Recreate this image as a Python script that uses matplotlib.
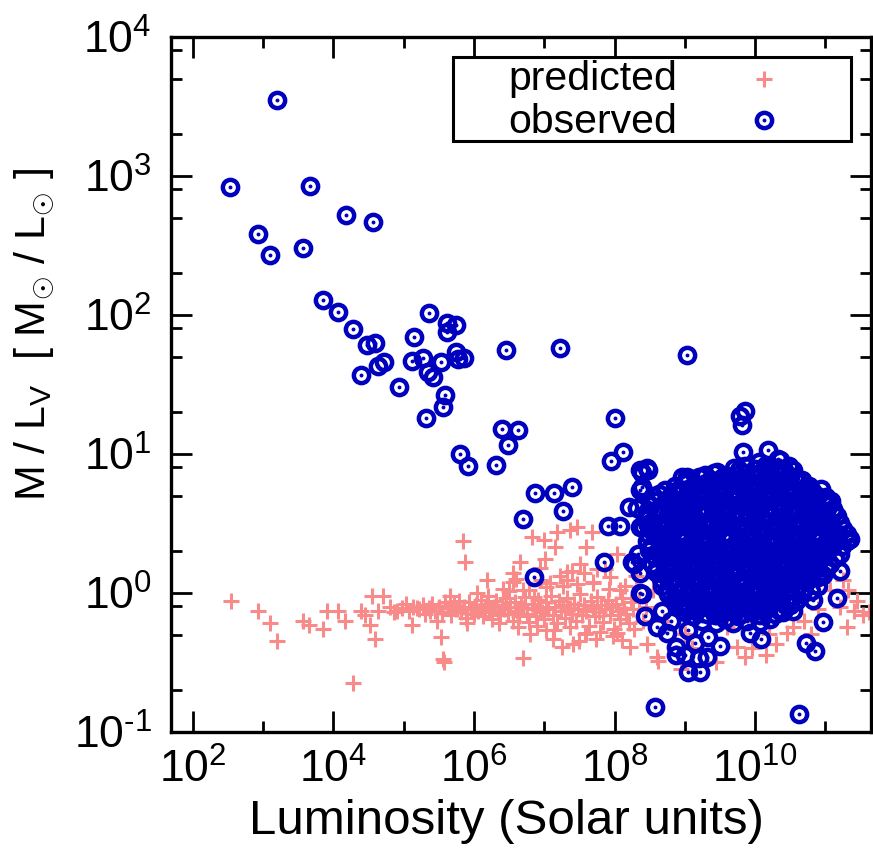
import matplotlib
matplotlib.use("Agg")
import matplotlib.pyplot as plt
from matplotlib.patches import Rectangle
from matplotlib.ticker import FixedLocator, FixedFormatter, NullFormatter
import numpy as np

plt.rcParams['font.family'] = ['Liberation Sans', 'DejaVu Sans']
plt.rcParams['mathtext.fontset'] = 'custom'
plt.rcParams['mathtext.rm'] = 'Liberation Sans'
plt.rcParams['mathtext.it'] = 'Liberation Sans'

# ---- data: (log10 luminosity [L_sun], log10 M/L_V [M_sun/L_sun]) ----
# observed: low-luminosity systems and isolated objects
observed_sparse = [
    (2.53, 2.92), (3.20, 3.55), (3.67, 2.93), (4.18, 2.72), (4.56, 2.67), (2.93, 2.58),
    (3.10, 2.43), (3.57, 2.48), (3.86, 2.11), (4.07, 2.02), (4.28, 1.90), (4.48, 1.78),
    (4.59, 1.80), (4.72, 1.66), (4.64, 1.63), (4.39, 1.57), (4.93, 1.48), (5.15, 1.84),
    (5.36, 2.01), (5.61, 1.94), (5.75, 1.93), (5.62, 1.88), (5.12, 1.67), (5.27, 1.69),
    (5.53, 1.66), (5.35, 1.59), (5.42, 1.55), (5.75, 1.73), (5.86, 1.69), (5.77, 1.68),
    (5.59, 1.42), (5.56, 1.34), (5.32, 1.26), (6.46, 1.75), (7.23, 1.76), (6.40, 1.18),
    (6.63, 1.17), (6.49, 1.06), (5.80, 1.00), (5.92, 0.91), (6.32, 0.92), (9.03, 1.71),
    (8.01, 1.26), (8.12, 1.01), (7.95, 0.95), (6.87, 0.72), (7.14, 0.72), (7.39, 0.76),
    (7.26, 0.59), (6.70, 0.53), (7.85, 0.22), (6.86, 0.11), (7.90, 0.48), (8.08, 0.48),
    (8.58, -0.82), (10.62, -0.87), (9.86, 1.31), (9.79, 1.27), (9.81, 1.21), (9.83, 1.01),
    (10.19, 1.03), (10.35, 0.955),
]

# observed: outskirts of the bright-galaxy cloud
observed_edge = [
    (8.36, 0.88), (8.48, 0.88), (8.39, 0.76), (8.55, 0.70), (8.20, 0.62), (8.32, 0.61),
    (8.48, 0.55), (8.36, 0.47), (8.55, 0.47), (8.25, 0.22), (8.34, 0.28), (8.36, 0.14),
    (8.36, 0.00), (8.43, -0.17), (8.60, -0.25), (8.74, -0.29), (8.88, -0.39), (8.88, -0.45),
    (9.05, -0.57), (9.22, -0.57), (9.31, -0.46), (9.33, -0.32), (9.50, -0.38), (9.45, -0.22),
    (9.69, -0.22), (9.93, -0.29), (10.09, -0.33), (10.07, -0.21), (10.35, -0.13), (10.54, -0.13),
    (10.83, -0.05), (10.97, -0.21), (10.73, -0.36), (10.85, -0.42), (11.16, -0.04), (11.21, 0.16),
    (11.35, 0.39), (11.11, 0.60), (10.97, 0.67), (10.76, 0.74), (10.54, 0.88), (9.69, 0.79),
    (9.41, 0.86), (9.30, 0.79), (8.96, 0.83), (9.03, 0.83), (8.98, 0.67), (9.26, 0.61),
    (8.46, 0.90), (8.39, 0.86), (8.36, 0.74), (8.27, 0.21), (8.39, -0.01),
    (8.68, -0.13), (8.80, -0.20), (9.05, -0.27), (9.15, -0.36), (9.00, -0.45), (9.20, -0.47),
]

# observed: dense core of bright galaxies
observed_core = [
    (10.05, 0.94), (10.21, 0.91), (10.33, 0.96),
    (9.28, 0.85), (9.46, 0.87), (9.61, 0.84), (9.77, 0.88), (9.94, 0.85), (10.09, 0.87),
    (10.24, 0.84), (10.41, 0.88), (10.57, 0.83),
    (8.86, 0.77), (9.01, 0.79), (9.16, 0.76), (9.34, 0.80), (9.48, 0.77), (9.65, 0.79),
    (9.81, 0.76), (9.95, 0.80), (10.13, 0.77), (10.27, 0.79), (10.45, 0.76), (10.61, 0.80),
    (10.77, 0.77),
    (8.63, 0.71), (8.77, 0.68), (8.95, 0.72), (9.09, 0.69), (9.27, 0.71), (9.42, 0.68),
    (9.56, 0.72), (9.74, 0.69), (9.88, 0.71), (10.06, 0.68), (10.20, 0.72), (10.38, 0.69),
    (10.52, 0.71), (10.70, 0.68), (10.84, 0.71), (11.01, 0.69),
    (8.51, 0.63), (8.66, 0.60), (8.84, 0.64), (8.99, 0.61), (9.13, 0.63), (9.31, 0.60),
    (9.45, 0.64), (9.63, 0.61), (9.77, 0.63), (9.95, 0.60), (10.09, 0.64), (10.27, 0.61),
    (10.41, 0.63), (10.59, 0.60), (10.73, 0.64), (10.91, 0.61), (11.05, 0.63),
    (8.43, 0.53), (8.61, 0.56), (8.75, 0.52), (8.93, 0.55), (9.07, 0.53), (9.25, 0.56),
    (9.39, 0.52), (9.57, 0.55), (9.71, 0.53), (9.89, 0.56), (10.03, 0.52), (10.21, 0.55),
    (10.35, 0.53), (10.53, 0.56), (10.67, 0.52), (10.85, 0.55), (10.99, 0.53), (11.16, 0.55),
    (8.41, 0.47), (8.54, 0.44), (8.71, 0.48), (8.85, 0.45), (9.03, 0.47), (9.17, 0.44),
    (9.35, 0.48), (9.49, 0.45), (9.67, 0.47), (9.81, 0.44), (9.99, 0.48), (10.13, 0.45),
    (10.31, 0.47), (10.45, 0.44), (10.63, 0.48), (10.77, 0.45), (10.95, 0.47), (11.09, 0.44),
    (11.25, 0.46),
    (8.46, 0.37), (8.60, 0.40), (8.78, 0.36), (8.92, 0.39), (9.10, 0.37), (9.24, 0.40),
    (9.42, 0.36), (9.56, 0.39), (9.74, 0.37), (9.88, 0.40), (10.06, 0.36), (10.20, 0.39),
    (10.38, 0.37), (10.52, 0.40), (10.70, 0.36), (10.84, 0.39), (11.02, 0.37), (11.16, 0.40),
    (11.31, 0.37),
    (8.49, 0.31), (8.65, 0.28), (8.79, 0.32), (8.97, 0.29), (9.11, 0.31), (9.29, 0.28),
    (9.43, 0.32), (9.61, 0.29), (9.75, 0.31), (9.93, 0.28), (10.07, 0.32), (10.25, 0.29),
    (10.39, 0.31), (10.57, 0.28), (10.71, 0.32), (10.89, 0.29), (11.03, 0.31), (11.21, 0.28),
    (8.53, 0.21), (8.67, 0.24), (8.85, 0.20), (8.99, 0.23), (9.17, 0.21), (9.31, 0.24),
    (9.49, 0.20), (9.63, 0.23), (9.81, 0.21), (9.95, 0.24), (10.13, 0.20), (10.27, 0.23),
    (10.45, 0.21), (10.59, 0.24), (10.77, 0.20), (10.91, 0.23), (11.07, 0.21),
    (8.59, 0.15), (8.73, 0.12), (8.91, 0.16), (9.05, 0.13), (9.23, 0.15), (9.37, 0.12),
    (9.55, 0.16), (9.69, 0.13), (9.87, 0.15), (10.01, 0.12), (10.19, 0.16), (10.33, 0.13),
    (10.51, 0.15), (10.65, 0.12), (10.83, 0.16), (10.97, 0.13),
    (8.67, 0.05), (8.81, 0.08), (8.99, 0.04), (9.13, 0.07), (9.31, 0.05), (9.45, 0.08),
    (9.63, 0.04), (9.77, 0.07), (9.95, 0.05), (10.09, 0.08), (10.27, 0.04), (10.41, 0.07),
    (10.59, 0.05), (10.73, 0.08), (10.89, 0.05),
    (8.76, -0.01), (8.90, -0.04), (9.08, 0.00), (9.22, -0.03), (9.40, -0.01), (9.54, -0.04),
    (9.72, 0.00), (9.86, -0.03), (10.04, -0.01), (10.18, -0.04), (10.36, 0.00), (10.50, -0.03),
    (10.67, -0.01),
    (8.91, -0.09), (9.05, -0.12), (9.23, -0.08), (9.37, -0.11), (9.55, -0.09), (9.69, -0.12),
    (9.87, -0.08), (10.01, -0.11), (10.19, -0.09), (10.33, -0.12), (10.49, -0.09),
    (9.11, -0.17), (9.25, -0.20), (9.43, -0.16), (9.57, -0.19), (9.75, -0.17), (9.89, -0.20),
    (10.07, -0.16), (10.21, -0.19),
]

# observed: further galaxies packed inside the core
observed_core_b = [
    (9.70, 0.90), (9.86, 0.91), (10.00, 0.89), (10.15, 0.92), (10.30, 0.90), (10.48, 0.91),
    (9.05, 0.82), (9.20, 0.83), (9.37, 0.81), (9.54, 0.83), (9.70, 0.82), (9.86, 0.81),
    (10.01, 0.83), (10.17, 0.82), (10.33, 0.81), (10.50, 0.83), (10.67, 0.81),
    (8.72, 0.74), (8.88, 0.73), (9.04, 0.75), (9.21, 0.74), (9.37, 0.73), (9.53, 0.75),
    (9.69, 0.74), (9.85, 0.73), (10.01, 0.75), (10.17, 0.74), (10.33, 0.73), (10.49, 0.75),
    (10.65, 0.74), (10.81, 0.73), (10.93, 0.75),
    (8.57, 0.66), (8.73, 0.67), (8.89, 0.65), (9.05, 0.66), (9.21, 0.67), (9.37, 0.65),
    (9.53, 0.66), (9.69, 0.67), (9.85, 0.65), (10.01, 0.66), (10.17, 0.67), (10.33, 0.65),
    (10.49, 0.66), (10.65, 0.67), (10.81, 0.65), (10.97, 0.66), (11.08, 0.66),
    (8.46, 0.58), (8.60, 0.59), (8.76, 0.57), (8.92, 0.58), (9.08, 0.59), (9.24, 0.57),
    (9.40, 0.58), (9.56, 0.59), (9.72, 0.57), (9.88, 0.58), (10.04, 0.59), (10.20, 0.57),
    (10.36, 0.58), (10.52, 0.59), (10.68, 0.57), (10.84, 0.58), (11.00, 0.59), (11.12, 0.58),
    (8.50, 0.50), (8.67, 0.51), (8.83, 0.49), (8.99, 0.50), (9.15, 0.51), (9.31, 0.49),
    (9.47, 0.50), (9.63, 0.51), (9.79, 0.49), (9.95, 0.50), (10.11, 0.51), (10.27, 0.49),
    (10.43, 0.50), (10.59, 0.51), (10.75, 0.49), (10.91, 0.50), (11.07, 0.51), (11.21, 0.50),
    (8.47, 0.42), (8.63, 0.43), (8.79, 0.41), (8.95, 0.42), (9.11, 0.43), (9.27, 0.41),
    (9.43, 0.42), (9.59, 0.43), (9.75, 0.41), (9.91, 0.42), (10.07, 0.43), (10.23, 0.41),
    (10.39, 0.42), (10.55, 0.43), (10.71, 0.41), (10.87, 0.42), (11.03, 0.43), (11.18, 0.42),
    (11.30, 0.42),
    (8.53, 0.34), (8.69, 0.33), (8.85, 0.35), (9.01, 0.34), (9.17, 0.33), (9.33, 0.35),
    (9.49, 0.34), (9.65, 0.33), (9.81, 0.35), (9.97, 0.34), (10.13, 0.33), (10.29, 0.35),
    (10.45, 0.34), (10.61, 0.33), (10.77, 0.35), (10.93, 0.34), (11.09, 0.33), (11.24, 0.34),
    (8.57, 0.26), (8.73, 0.25), (8.89, 0.27), (9.05, 0.26), (9.21, 0.25), (9.37, 0.27),
    (9.53, 0.26), (9.69, 0.25), (9.85, 0.27), (10.01, 0.26), (10.17, 0.25), (10.33, 0.27),
    (10.49, 0.26), (10.65, 0.25), (10.81, 0.27), (10.97, 0.26), (11.13, 0.25),
    (8.61, 0.18), (8.77, 0.17), (8.93, 0.19), (9.09, 0.18), (9.25, 0.17), (9.41, 0.19),
    (9.57, 0.18), (9.73, 0.17), (9.89, 0.19), (10.05, 0.18), (10.21, 0.17), (10.37, 0.19),
    (10.53, 0.18), (10.69, 0.17), (10.85, 0.19), (11.01, 0.18),
    (8.66, 0.10), (8.82, 0.09), (8.98, 0.11), (9.14, 0.10), (9.30, 0.09), (9.46, 0.11),
    (9.62, 0.10), (9.78, 0.09), (9.94, 0.11), (10.10, 0.10), (10.26, 0.09), (10.42, 0.11),
    (10.58, 0.10), (10.74, 0.09), (10.90, 0.11),
    (8.74, 0.02), (8.90, 0.01), (9.06, 0.03), (9.22, 0.02), (9.38, 0.01), (9.54, 0.03),
    (9.70, 0.02), (9.86, 0.01), (10.02, 0.03), (10.18, 0.02), (10.34, 0.01), (10.50, 0.03),
    (10.66, 0.02), (10.80, 0.01),
    (8.84, -0.06), (9.00, -0.07), (9.16, -0.05), (9.32, -0.06), (9.48, -0.07), (9.64, -0.05),
    (9.80, -0.06), (9.96, -0.07), (10.12, -0.05), (10.28, -0.06), (10.44, -0.07), (10.58, -0.06),
    (9.00, -0.14), (9.16, -0.13), (9.32, -0.15), (9.48, -0.14), (9.64, -0.13), (9.80, -0.15),
    (9.96, -0.14), (10.12, -0.13), (10.28, -0.15), (10.40, -0.14),
]

# predicted: scattered low-luminosity and off-sequence values
predicted_sparse = [
    (2.54, -0.06), (2.93, -0.13), (3.10, -0.22), (3.20, -0.35), (3.57, -0.20), (3.65, -0.23),
    (3.86, -0.26), (3.91, -0.13), (4.07, -0.13), (4.17, -0.20), (4.28, -0.65), (4.40, -0.13),
    (4.45, -0.16), (4.52, -0.23), (4.55, -0.02), (4.71, -0.02), (4.64, -0.13), (4.59, -0.33),
    (4.90, -0.13), (5.12, -0.23), (5.19, -0.11), (5.38, -0.13), (5.53, -0.32), (5.56, -0.48),
    (5.58, -0.50), (5.85, 0.37), (5.87, 0.22), (6.18, 0.09), (6.70, -0.47), (7.25, -0.39),
    (7.41, -0.37), (6.82, 0.40), (6.99, 0.38), (7.15, 0.33), (7.18, 0.44), (7.37, 0.45),
    (7.46, 0.47), (7.68, 0.44), (7.60, 0.33), (8.03, 0.28), (6.66, 0.22), (7.01, 0.24),
    (6.94, 0.18), (6.56, 0.14), (7.39, 0.16), (7.56, 0.14), (7.03, -0.27), (7.60, -0.29),
    (7.98, -0.31), (8.22, -0.39), (8.46, -0.37), (8.60, -0.46), (8.62, -0.49),
    (7.32, 0.15), (7.51, 0.21), (7.75, 0.17), (7.94, 0.11), (7.32, 0.09), (7.70, 0.07),
    (8.08, 0.02), (7.08, 0.07), (6.70, 0.02), (6.42, 0.03), (6.56, 0.08), (6.85, -0.03),
]

# predicted: main sequence band
predicted_band = [
    (4.80, -0.10), (4.86, -0.14), (4.97, -0.11), (5.03, -0.08), (5.08, -0.13), (5.14, -0.10),
    (5.22, -0.12), (5.27, -0.09), (5.31, -0.15), (5.36, -0.11), (5.41, -0.08), (5.45, -0.13),
    (5.50, -0.10), (5.55, -0.14), (5.59, -0.07), (5.63, -0.11), (5.68, -0.16), (5.71, -0.09),
    (5.75, -0.12), (5.79, -0.06), (5.82, -0.14), (5.86, -0.10), (5.89, -0.18), (5.93, -0.07),
    (5.96, -0.12), (6.00, -0.15), (6.03, -0.09), (6.06, -0.13), (6.10, -0.05), (6.13, -0.17),
    (6.16, -0.11), (6.19, -0.08), (6.22, -0.14), (6.25, -0.19), (6.28, -0.10), (6.31, -0.06),
    (6.34, -0.13), (6.37, -0.16), (6.40, -0.09), (6.43, -0.12), (6.46, -0.04), (6.49, -0.15),
    (6.52, -0.10), (6.55, -0.20), (6.58, -0.07), (6.61, -0.13), (6.64, -0.17), (6.67, -0.09),
    (6.70, -0.11), (6.73, -0.03), (6.76, -0.15), (6.79, -0.21), (6.82, -0.08), (6.85, -0.12),
    (6.88, -0.17), (6.91, -0.05), (6.94, -0.10), (6.97, -0.14), (7.00, -0.19), (7.03, -0.07),
    (7.06, -0.12), (7.09, -0.02), (7.12, -0.16), (7.15, -0.10), (7.18, -0.22), (7.21, -0.06),
    (7.24, -0.13), (7.27, -0.09), (7.30, -0.18), (7.33, -0.04), (7.36, -0.11), (7.39, -0.15),
    (7.42, -0.08), (7.45, -0.20), (7.48, -0.12), (7.51, -0.01), (7.54, -0.16), (7.57, -0.09),
    (7.60, -0.13), (7.63, -0.24), (7.66, -0.06), (7.69, -0.11), (7.72, -0.17), (7.75, -0.03),
    (7.78, -0.14), (7.81, -0.09), (7.84, -0.21), (7.87, -0.12), (7.90, -0.05), (7.93, -0.16),
    (7.96, -0.10), (7.99, -0.26), (8.02, -0.08), (8.05, -0.13), (8.08, -0.19), (8.11, -0.04),
    (8.14, -0.11), (8.17, -0.15), (8.20, -0.22), (8.23, -0.07), (8.26, -0.12),
    (6.20, -0.02), (6.35, -0.22), (6.50, 0.01), (6.62, -0.25), (6.78, 0.02), (6.90, -0.24),
    (7.02, 0.04), (7.14, -0.27), (7.26, 0.05), (7.36, -0.25), (7.47, 0.06), (7.58, -0.30),
    (7.70, 0.08), (7.80, -0.28), (7.92, 0.03), (8.04, -0.29), (8.15, 0.05), (8.27, -0.26),
    (8.35, -0.05), (8.40, -0.20), (5.90, -0.22), (6.05, 0.00), (5.66, -0.02), (5.48, -0.20),
    (6.60, 0.10), (6.95, 0.09), (7.22, 0.12), (7.50, -0.35), (7.74, -0.33), (7.86, 0.17),
    (8.10, -0.34), (8.30, 0.12), (7.12, -0.33), (6.80, -0.30),
]

# predicted: bright end
predicted_bright = [
    (8.45, -0.10), (8.55, 0.02), (8.70, -0.20), (8.85, -0.08), (9.00, -0.30), (9.20, -0.15),
    (9.40, -0.05), (9.60, -0.25), (9.80, -0.12), (10.00, -0.20), (10.02, -0.11), (10.20, -0.30),
    (10.45, -0.29), (10.54, -0.25), (9.74, -0.39), (9.86, -0.46), (9.95, -0.40), (10.30, -0.37),
    (10.70, -0.20), (10.90, -0.12), (11.07, 0.02), (11.21, -0.10), (11.25, 0.09), (11.40, -0.13),
    (11.54, -0.16), (11.62, -0.14), (11.32, 0.02), (11.10, 0.22), (9.31, 0.31), (10.60, 0.10),
    (10.95, 0.30), (9.10, -0.40), (8.95, -0.55), (9.45, -0.50), (10.15, -0.45), (11.45, -0.06),
    (11.30, -0.25), (10.80, -0.30),
]

x_major = [1e2, 1e4, 1e6, 1e8, 1e10]
x_major_labels = ['$10^{2}$', '$10^{4}$', '$10^{6}$', '$10^{8}$', '$10^{10}$']
x_minor = [1e3, 1e5, 1e7, 1e9, 1e11]
y_major = [1e-1, 1e0, 1e1, 1e2, 1e3, 1e4]
y_major_labels = [r'$10^{\text{-}1}$', '$10^{0}$', '$10^{1}$', '$10^{2}$', '$10^{3}$', '$10^{4}$']
y_minor_mult = [2, 5, 8]

BLUE = '#0000bf'
PINK = '#f88a8a'

RING = dict(linestyle='none', marker='o', markersize=11.0, markeredgewidth=3.2,
            markerfacecolor='none', markeredgecolor=BLUE)
DOT = dict(linestyle='none', marker='o', markersize=2.8, markeredgewidth=0, color=BLUE)
CROSS = dict(linestyle='none', marker='+', markersize=12.0, markeredgewidth=2.2, color=PINK)


def unpack(*groups):
    pts = [p for g in groups for p in g]
    arr = np.array(pts)
    return 10.0 ** arr[:, 0], 10.0 ** arr[:, 1]


fig = plt.figure(figsize=(8.73, 8.5), dpi=100)
ax = fig.add_axes([171 / 873, 118.3 / 850, 700 / 873, 694.7 / 850])
ax.set_xscale('log')
ax.set_yscale('log')
ax.set_xlim(10 ** 1.691, 10 ** 11.648)
ax.set_ylim(1e-1, 1e4)

px, py = unpack(predicted_sparse, predicted_band, predicted_bright)
ax.plot(px, py, zorder=2, **CROSS)

ox, oy = unpack(observed_sparse, observed_edge, observed_core, observed_core_b)
ax.plot(ox, oy, zorder=3, **RING)
ax.plot(ox, oy, zorder=3, **DOT)

# axes frame and ticks
for s in ax.spines.values():
    s.set_linewidth(2.4)
ax.xaxis.set_major_locator(FixedLocator(x_major))
ax.xaxis.set_major_formatter(FixedFormatter(x_major_labels))
ax.xaxis.set_minor_locator(FixedLocator(x_minor))
ax.xaxis.set_minor_formatter(NullFormatter())
ax.yaxis.set_major_locator(FixedLocator(y_major))
ax.yaxis.set_major_formatter(FixedFormatter(y_major_labels))
ax.yaxis.set_minor_locator(FixedLocator([m * 10.0 ** e for e in range(-1, 4) for m in y_minor_mult]))
ax.yaxis.set_minor_formatter(NullFormatter())
ax.tick_params(which='both', direction='in', top=True, right=True, width=2.0)
ax.tick_params(which='major', length=15, labelsize=32)
ax.tick_params(which='minor', length=8)
ax.tick_params(axis='x', which='major', pad=12)
ax.tick_params(axis='y', which='major', pad=14)

fig.text(506 / 873, 1 - 822 / 850, 'Luminosity (Solar units)', ha='center', va='center',
         fontsize=35.5)
fig.text(35 / 873, 1 - 334 / 850, r'M / L$_\mathregular{V}$  [ M$_{\odot}$ / L$_{\odot}$ ]',
         rotation=90, ha='center', va='center', fontsize=31)

# key box
ax.add_patch(Rectangle((0.4024, 0.850), 0.5686, 0.1216, transform=ax.transAxes,
                       facecolor='white', edgecolor='black', linewidth=2.2, zorder=5))
ax.text(0.4814, 0.9236, 'predicted', transform=ax.transAxes, ha='left', va='baseline',
        fontsize=29.5, zorder=6)
ax.text(0.4814, 0.8622, 'observed', transform=ax.transAxes, ha='left', va='baseline',
        fontsize=29.5, zorder=6)
ax.plot([0.8471], [0.9395], transform=ax.transAxes, zorder=6, **CROSS)
ax.plot([0.8471], [0.8804], transform=ax.transAxes, zorder=6, **RING)
ax.plot([0.8471], [0.8804], transform=ax.transAxes, zorder=6, **DOT)

fig.savefig('out.png', dpi=100)
